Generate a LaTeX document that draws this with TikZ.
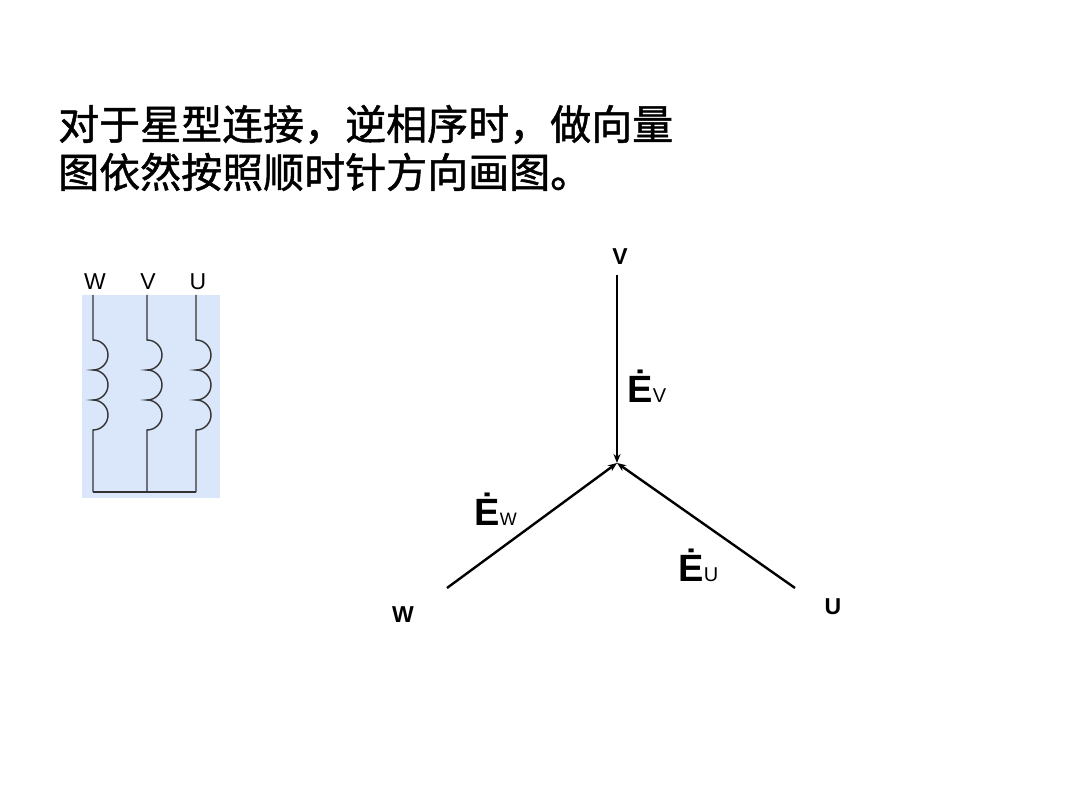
\documentclass[tikz,border=0pt]{standalone}
\usepackage{fontspec}
\usetikzlibrary{arrows.meta}
\setmainfont{Liberation Sans}
\newfontfamily\cjk[FakeBold=1.2]{Noto Sans CJK SC}
\definecolor{boxblue}{RGB}{218,230,250}
\begin{document}
\begin{tikzpicture}[x=1pt,y=-1pt,
  vec/.style={line width=2.4pt,-{Stealth[length=9pt,width=7pt]}},
  wire/.style={line width=1.4pt,draw=black!80},
  lab/.style={font=\bfseries\fontsize{23}{25}\selectfont},
  elab/.style={font=\fontsize{38}{40}\selectfont}]
\useasboundingbox (0,0) rectangle (1080,810);
\node[anchor=west,align=left,inner sep=0pt,font=\cjk\fontsize{41}{48}\selectfont] (title) at (58,148)
 {对于星型连接，逆相序时，做向量\\图依然按照顺时针方向画图。};
% coil box
\fill[boxblue] (82,295) rectangle (220,498);
\node[font=\fontsize{23}{25}\selectfont] (lw) at (95,282) {W};
\node[font=\fontsize{23}{25}\selectfont] (lv) at (148,282) {V};
\node[font=\fontsize{23}{25}\selectfont] (lu) at (198,282) {U};
\foreach \x in {93,147,196}{
  \draw[wire] (\x,295) -- (\x,340)
    arc[start angle=-90,end angle=90,radius=15]
    arc[start angle=-90,end angle=90,radius=15]
    arc[start angle=-90,end angle=90,radius=15]
    -- (\x,492);
}
\draw[wire] (93,492) -- (196,492);
% phasors
\coordinate (O) at (617,463);
\coordinate (V) at (617,275);
\coordinate (W) at (447,588);
\coordinate (U) at (795,588);
\draw[vec] (V) -- (O);
\draw[vec] (W) -- (O);
\draw[vec] (U) -- (O);
\node[lab] (nv) at (620,257) {V};
\node[lab] (nw) at (403,615) {W};
\node[lab] (nu) at (833,607) {U};
\node[elab,anchor=base west] (ev) at (624,403) {\textbf{Ė}\fontsize{20}{22}\selectfont V};
\node[elab,anchor=base west] (ew) at (471,525) {\textbf{Ė}\fontsize{18}{20}\selectfont W};
\node[elab,anchor=base west] (eu) at (675,581) {\textbf{Ė}\fontsize{20}{22}\selectfont U};
\end{tikzpicture}
\end{document}
